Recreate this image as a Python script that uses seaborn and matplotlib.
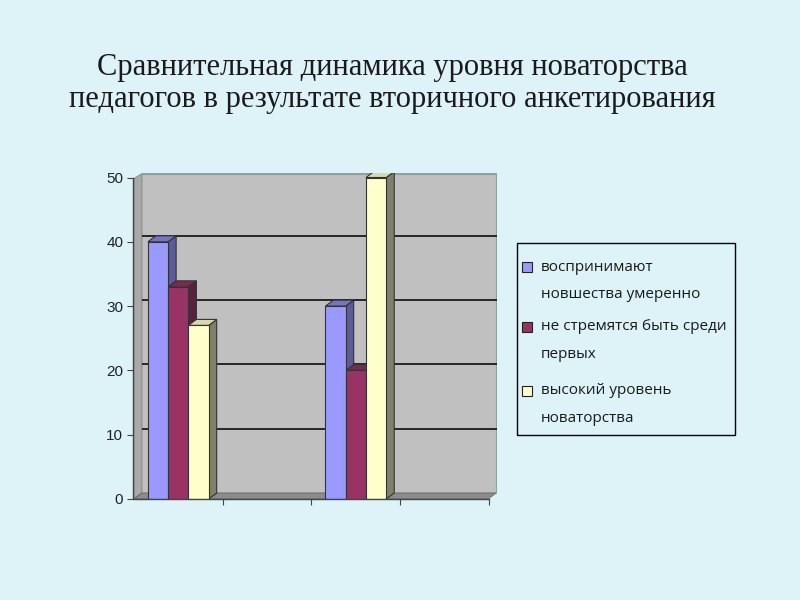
import matplotlib
matplotlib.use("Agg")
import matplotlib.pyplot as plt
from matplotlib.patches import Polygon, Rectangle
import matplotlib.colors as mcolors
import seaborn as sns
import pandas as pd

categories = ["1", "2", "3", "4"]
series = ["воспринимают\nновшества умеренно",
          "не стремятся быть среди\nпервых",
          "высокий уровень\nноваторства"]
group1_values = [40, 33, 27]
group3_values = [30, 20, 50]
yticks = [0, 10, 20, 30, 40, 50]
title_lines = ["Сравнительная динамика уровня новаторства",
               "педагогов в результате вторичного анкетирования"]

colors = ["#9999FF", "#993366", "#FFFFCC"]
side_colors = ["#5C5C99", "#5C1F3D", "#80806A"]
top_colors = ["#7373C8", "#7A2952", "#D8D8B0"]
bg = "#DDF3F8"

rows = []
for s, v in zip(series, group1_values):
    rows.append({"cat": categories[0], "series": s, "value": v})
for s, v in zip(series, group3_values):
    rows.append({"cat": categories[2], "series": s, "value": v})
df = pd.DataFrame(rows)

sns.set_style("white")
plt.rcParams["font.family"] = ["DejaVu Sans"]

fig = plt.figure(figsize=(8, 6), dpi=100, facecolor=bg)
ax = fig.add_axes([133 / 800, 1 - 499 / 600, (497 - 133) / 800, (499 - 173) / 600])
ax.set_facecolor("#C0C0C0")

sns.barplot(data=df, x="cat", y="value", hue="series", order=categories,
            hue_order=series, palette=colors, width=0.685, saturation=1,
            edgecolor="#333333", linewidth=0.8, ax=ax, legend=False, zorder=3)

dx = 0.09
dy = 0.93
xl, xr = -0.5, 3.5
ytop = 50.7
ax.set_xlim(xl - 0.01, xr + dx)
ax.set_ylim(0, ytop)

bar_patches = list(ax.patches)
hexcols = [mcolors.to_hex(c) for c in colors]
for p in bar_patches:
    h = p.get_height()
    if h != h or h == 0:
        continue
    x0 = p.get_x()
    x1 = x0 + p.get_width()
    idx = hexcols.index(mcolors.to_hex(p.get_facecolor()[:3]))
    ax.add_patch(Polygon([(x1, 0), (x1 + dx, dy), (x1 + dx, h + dy), (x1, h)], closed=True,
                         facecolor=side_colors[idx], edgecolor="#333333", linewidth=0.8,
                         zorder=2.5))
    ax.add_patch(Polygon([(x0, h), (x0 + dx, h + dy), (x1 + dx, h + dy), (x1, h)], closed=True,
                         facecolor=top_colors[idx], edgecolor="#333333", linewidth=0.8,
                         zorder=2.5))

# walls and floor
ax.add_patch(Polygon([(xl, 0), (xl + dx, dy), (xl + dx, ytop), (xl, ytop - dy)], closed=True,
                     facecolor="#A9A9A9", edgecolor="#8A8A8A", linewidth=0.8, zorder=0.6))
ax.add_patch(Polygon([(xl - 0.02, ytop - dy), (xl - 0.02, ytop + 1), (xl + dx, ytop + 1),
                      (xl + dx, ytop)],
                     closed=True, facecolor=bg, edgecolor="none", zorder=0.7))
ax.add_patch(Polygon([(xl - 0.02, -1), (xl - 0.02, ytop + 1), (xl, ytop + 1), (xl, -1)],
                     closed=True, facecolor=bg, edgecolor="none", zorder=0.7))
ax.add_patch(Polygon([(xl, 0), (xl + dx, dy), (xr + dx, dy), (xr, 0)], closed=True,
                     facecolor="#8C8C8C", edgecolor="#6E6E6E", linewidth=0.8, zorder=0.6))
ax.add_patch(Polygon([(xr, -1), (xr, 0), (xr + dx, dy), (xr + dx + 1, dy), (xr + dx + 1, -1)],
                     closed=True, facecolor=bg, edgecolor="none", zorder=0.7))
ax.plot([xl + dx, xr + dx, xr + dx], [ytop - 0.1, ytop - 0.1, dy], color="#8FA0A0",
        linewidth=1.5, zorder=0.8)
for y in yticks[1:-1]:
    ax.hlines(y + dy, xl + dx, xr + dx, color="#1A1A1A", linewidth=1.3, zorder=1)

ax.set_yticks(yticks)
ax.set_yticklabels([str(t) for t in yticks], fontsize=11, color="#222222",
                   family=["Liberation Sans Narrow", "Liberation Sans"])
ax.set_xticks([0.5, 1.5, 2.5, 3.5])
ax.set_xticklabels([])
ax.tick_params(axis="both", direction="out", length=4, color="#444444", width=0.8,
               left=True, bottom=True, pad=3)
ax.set_xlabel("")
ax.set_ylabel("")
ax.spines["top"].set_visible(False)
ax.spines["right"].set_visible(False)
ax.spines["left"].set_bounds(0, 50)
ax.spines["bottom"].set_bounds(xl, xr)
for k in ("left", "bottom"):
    ax.spines[k].set_color("#444444")
    ax.spines[k].set_linewidth(1)
    ax.spines[k].set_zorder(4)

# legend (manual, to keep marker aligned with the first text line)
W, H = 800, 600
fig.patches.append(Rectangle((517 / W, 1 - 435 / H), (735 - 517) / W, (435 - 243) / H,
                             transform=fig.transFigure, facecolor=bg, edgecolor="#000000",
                             linewidth=1))
line_y = [(267, 294), (327, 354), (391, 418)]
for i, label in enumerate(series):
    ys = line_y[i]
    fig.patches.append(Rectangle((522 / W, 1 - (ys[0] + 5) / H), 10 / W, 10 / H,
                                 transform=fig.transFigure, facecolor=colors[i],
                                 edgecolor="#222222", linewidth=0.8))
    for ln, yy in zip(label.split("\n"), ys):
        fig.text(541 / W, 1 - yy / H, ln, ha="left", va="center", fontsize=11,
                 family=["Open Sans", "DejaVu Sans"], color="#1A1A1A")

for ln, yy in zip(title_lines, (68, 100)):
    fig.text(392 / W, 1 - yy / H, ln, ha="center", va="center", fontsize=22,
             family=["Liberation Serif"], color="#1A1A1A")

fig.savefig("out.png", dpi=100, facecolor=bg)
